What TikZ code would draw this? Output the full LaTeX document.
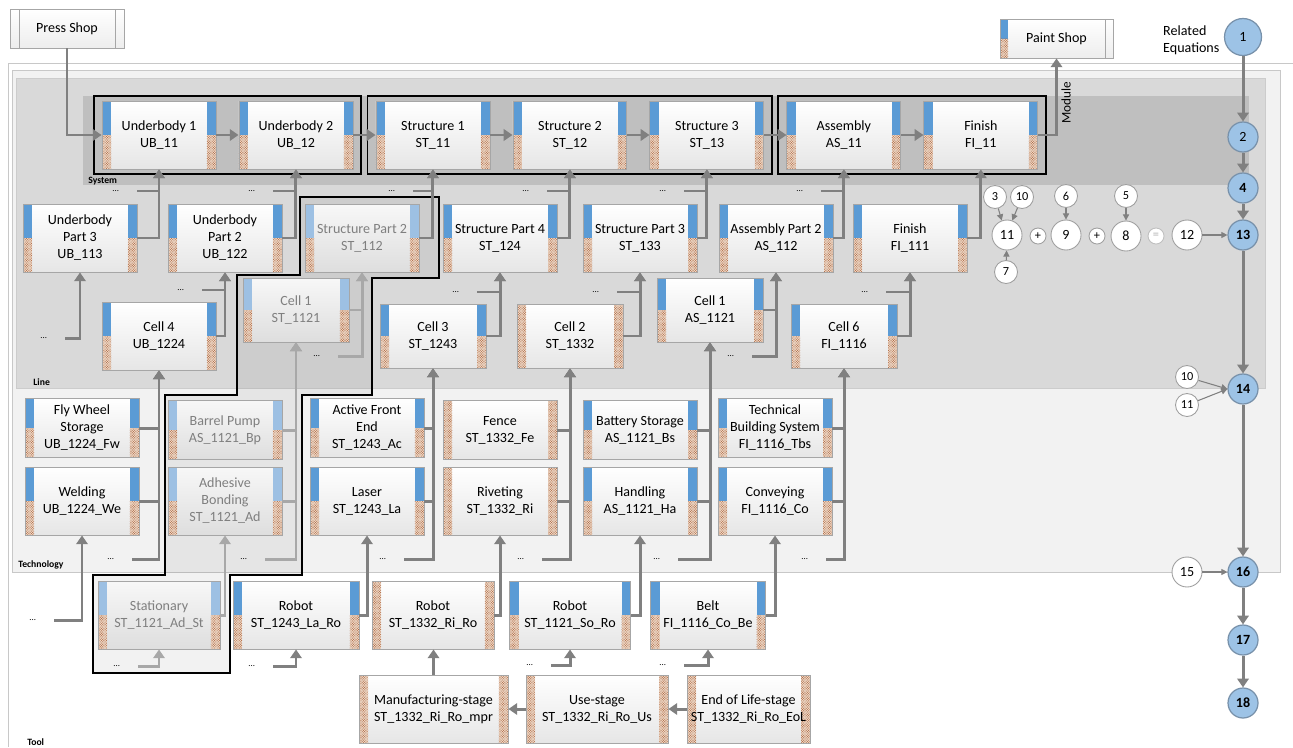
\documentclass[tikz,border=0pt]{standalone}
\usepackage{fontspec}
\setmainfont{Carlito}
\usetikzlibrary{arrows.meta,calc,positioning,fit,patterns}

\definecolor{sysgray}{HTML}{BFBFBF}
\definecolor{linegray}{HTML}{D9D9D9}
\definecolor{techgray}{HTML}{F2F2F2}
\definecolor{edgegray}{HTML}{C8C8C8}
\definecolor{boxline}{HTML}{A6A6A6}
\definecolor{boxbot}{HTML}{E6E6E6}
\definecolor{barblue}{HTML}{5B9BD5}
\definecolor{fadeblue}{HTML}{9DC0E3}
\definecolor{patbase}{HTML}{EDD9C8}
\definecolor{patbrown}{HTML}{B06A45}
\definecolor{arrgray}{HTML}{808080}
\definecolor{fadearr}{HTML}{A8A8A8}
\definecolor{fadetext}{HTML}{7F7F7F}
\definecolor{eqfill}{HTML}{9DC3E6}
\definecolor{eqline}{HTML}{7891AA}

\pgfdeclarepatternformonly{speckle}{\pgfqpoint{-0.1pt}{-0.1pt}}{\pgfqpoint{1.5pt}{1.5pt}}{\pgfqpoint{1.4pt}{1.4pt}}{%
  \pgfpathcircle{\pgfqpoint{0.35pt}{0.35pt}}{0.32pt}%
  \pgfpathcircle{\pgfqpoint{1.05pt}{1.05pt}}{0.32pt}%
  \pgfusepath{fill}}

\newcommand{\boxfont}{\fontsize{8}{9.7}\selectfont}

\tikzset{
  patbar/.style={preaction={fill=patbase},pattern=speckle,pattern color=patbrown},
  bluebar/.style={fill=barblue},
  fadebar/.style={fill=fadeblue},
  twobars/.style 2 args={path picture={
      \coordinate (bnw) at (path picture bounding box.north west);
      \coordinate (bse) at (path picture bounding box.south east);
      \fill[#1] (bnw) rectangle ($(bnw)!0.5!(bnw|-bse)+(0.18cm,0)$);
      \fill[#2] ($(bnw)!0.5!(bnw|-bse)$) rectangle ($(bnw|-bse)+(0.18cm,0)$);
      \fill[#1] ($(bnw-|bse)-(0.18cm,0)$) rectangle ($(bse)!0.5!(bnw-|bse)$);
      \fill[#2] ($(bse)!0.5!(bnw-|bse)-(0.18cm,0)$) rectangle (bse);}},
  proc/.style={draw=boxline,line width=0.5pt,top color=white,bottom color=boxbot,
    minimum width=2.28cm,minimum height=1.36cm,inner sep=1pt,align=center,font=\boxfont},
  blueproc/.style={proc,twobars={bluebar}{patbar}},
  patproc/.style={proc,twobars={patbar}{patbar}},
  fadeproc/.style={proc,twobars={fadebar}{patbar},text=fadetext,top color=black!3,bottom color=black!13},
  cellsize/.style={minimum width=2.12cm,minimum height=1.28cm},
  techtop/.style={minimum height=1.18cm},
  conn/.style={draw=arrgray,line width=1.7pt,-{Triangle[length=5pt,width=6.5pt]}},
  fadeconn/.style={conn,draw=fadearr},
  eqarrow/.style={draw=arrgray,line width=0.6pt,-{Triangle[length=3.5pt,width=3.5pt]}},
  dots/.style={anchor=east,inner xsep=10pt,inner ysep=0pt,font=\fontsize{5}{5}\selectfont},
  module/.style={draw=black,line width=1.1pt,inner xsep=0.16cm,inner ysep=0.09cm},
  layerlbl/.style={anchor=west,inner sep=0pt,font=\fontsize{5.5}{6}\selectfont\bfseries},
  eqmain/.style={circle,draw=eqline,line width=0.7pt,fill=eqfill,minimum size=0.6cm,
    inner sep=0pt,font=\fontsize{8}{9}\selectfont\bfseries},
  eqref/.style={circle,draw=gray!75,line width=0.5pt,fill=white,minimum size=0.6cm,
    inner sep=0pt,font=\fontsize{8}{9}\selectfont},
  eqsmall/.style={eqref,minimum size=0.46cm,font=\fontsize{7}{8}\selectfont},
  eqop/.style={eqref,minimum size=0.32cm,font=\fontsize{7}{7}\selectfont},
}

\begin{document}
\begin{tikzpicture}[x=0.02cm,y=-0.02cm,node distance=2.74cm]
  \useasboundingbox (0,0) rectangle (1293,747);
  % layers
  \draw[edgegray] (8,747) -- (8,63) -- (1293,63);
  \draw[edgegray,fill=techgray] (12,70) rectangle (1280,572);
  \draw[black!20,fill=linegray] (16,78) rectangle (1265,388);
  \fill[sysgray] (83,96) rectangle (1249,185);
  \node[layerlbl] (lsys) at (88,181) {System};
  \node[layerlbl] (lline) at (33,382) {Line};
  \node[layerlbl] (ltech) at (18,565) {Technology};
  \node[layerlbl] (ltool) at (27,742) {Tool};
  % outline of the faded chain
  \draw[black,line width=0.6pt,fill=black,fill opacity=0.05]
    (300,197) -- (439,197) -- (439,278) -- (372,278) -- (372,395) -- (302,395)
    -- (302,575) -- (230,575) -- (230,673) -- (93,673) -- (93,575) -- (165,575)
    -- (165,395) -- (237,395) -- (237,275) -- (300,275) -- cycle;

  % shops
  \node[proc,minimum height=0.78cm,bottom color=black!7,path picture={
      \draw[boxline] ([xshift=0.18cm]path picture bounding box.north west)
        -- ([xshift=0.18cm]path picture bounding box.south west);
      \draw[boxline] ([xshift=-0.18cm]path picture bounding box.north east)
        -- ([xshift=-0.18cm]path picture bounding box.south east);}]
    (PRS) at (67,28.5) {Press Shop};
  \node[proc,minimum width=2.26cm,minimum height=0.78cm,bottom color=black!7,path picture={
      \coordinate (bnw) at (path picture bounding box.north west);
      \coordinate (bse) at (path picture bounding box.south east);
      \fill[bluebar] (bnw) rectangle ($(bnw)!0.5!(bnw|-bse)+(0.16cm,0)$);
      \fill[patbar] ($(bnw)!0.5!(bnw|-bse)$) rectangle ($(bnw|-bse)+(0.16cm,0)$);
      \draw[boxline] ($(bnw-|bse)-(0.16cm,0)$) -- ($(bse)-(0.16cm,0)$);}]
    (PAS) at (1056.5,38.5) {Paint Shop};

  % system row
  \node[blueproc] (UB11) at (159,135) {Underbody 1\\UB\_11};
  \node[blueproc] (UB12) [right of=UB11] {Underbody 2\\UB\_12};
  \node[blueproc] (ST11) [right of=UB12] {Structure 1\\ST\_11};
  \node[blueproc] (ST12) [right of=ST11] {Structure 2\\ST\_12};
  \node[blueproc] (ST13) [right of=ST12] {Structure 3\\ST\_13};
  \node[blueproc] (AS11) [right of=ST13] {Assembly\\AS\_11};
  \node[blueproc] (FI11) [right of=AS11] {Finish\\FI\_11};
  \node[module,fit=(UB11)(UB12)] (modUB) {};
  \node[module,fit=(ST11)(ST13)] (modST) {};
  \node[module,fit=(AS11)(FI11)] (modAF) {};
  \node[rotate=90,font=\fontsize{7.5}{8}\selectfont] (lmod) at (1066,103) {Module};

  % line: parts
  \node[blueproc] (UBP3) at (80,238) {Underbody\\Part 3\\UB\_113};
  \node[blueproc] (UBP2) at (225,238) {Underbody\\Part 2\\UB\_122};
  \node[fadeproc] (STP2) at (362,238) {Structure Part 2\\ST\_112};
  \node[blueproc] (STP4) at (500,238) {Structure Part 4\\ST\_124};
  \node[blueproc] (STP3) at (640,238) {Structure Part 3\\ST\_133};
  \node[blueproc] (ASP2) at (776,238) {Assembly Part 2\\AS\_112};
  \node[blueproc] (FIP1) at (910,238) {Finish\\FI\_111};

  % line: cells
  \node[blueproc] (C4UB) at (159,336) {Cell 4\\UB\_1224};
  \node[fadeproc,cellsize] (C1ST) at (296,310) {Cell 1\\ST\_1121};
  \node[blueproc,cellsize] (C3ST) at (433,336) {Cell 3\\ST\_1243};
  \node[patproc,cellsize] (C2ST) at (570,336) {Cell 2\\ST\_1332};
  \node[blueproc,cellsize] (C1AS) at (710,310) {Cell 1\\AS\_1121};
  \node[blueproc,cellsize] (C6FI) at (844,336) {Cell 6\\FI\_1116};

  % technology
  \node[blueproc,techtop] (FWS) at (82,428) {Fly Wheel\\Storage\\UB\_1224\_Fw};
  \node[fadeproc,techtop] (BPU) at (225,430) {Barrel Pump\\AS\_1121\_Bp};
  \node[blueproc,techtop] (AFE) at (367,428) {Active Front\\End\\ST\_1243\_Ac};
  \node[patproc,techtop] (FEN) at (500,430) {Fence\\ST\_1332\_Fe};
  \node[blueproc,techtop] (BAT) at (640,430) {Battery Storage\\AS\_1121\_Bs};
  \node[blueproc,techtop] (TBS) at (775,428) {Technical\\Building System\\FI\_1116\_Tbs};
  \node[blueproc] (WEL) at (82,501) {Welding\\UB\_1224\_We};
  \node[fadeproc] (ADH) at (225,501) {Adhesive\\Bonding\\ST\_1121\_Ad};
  \node[blueproc] (LAS) at (367,501) {Laser\\ST\_1243\_La};
  \node[patproc] (RIV) at (500,501) {Riveting\\ST\_1332\_Ri};
  \node[blueproc] (HAN) at (640,501) {Handling\\AS\_1121\_Ha};
  \node[blueproc] (CON) at (775,501) {Conveying\\FI\_1116\_Co};

  % tools
  \node[fadeproc,minimum width=2.44cm] (STA) at (159,615) {Stationary\\ST\_1121\_Ad\_St};
  \node[blueproc,minimum width=2.52cm] (RLA) at (296,615) {Robot\\ST\_1243\_La\_Ro};
  \node[patproc,minimum width=2.44cm] (RRI) at (433,615) {Robot\\ST\_1332\_Ri\_Ro};
  \node[blueproc,minimum width=2.42cm] (RSO) at (570,615) {Robot\\ST\_1121\_So\_Ro};
  \node[blueproc,minimum width=2.30cm] (BEL) at (708,615) {Belt\\FI\_1116\_Co\_Be};
  \node[patproc,minimum width=2.98cm] (MFG) at (433.5,709) {Manufacturing-stage\\ST\_1332\_Ri\_Ro\_mpr};
  \node[patproc,minimum width=2.84cm] (USE) at (597,709) {Use-stage\\ST\_1332\_Ri\_Ro\_Us};
  \node[patproc,minimum width=2.46cm] (EOL) at (748.5,709) {End of Life-stage\\ST\_1332\_Ri\_Ro\_EoL};

  % open ends
  \node[dots] (dUB11) at (137,191) {...};
  \node[dots] (dUB12) at (273,191) {...};
  \node[dots] (dST11) at (413,191) {...};
  \node[dots] (dST12) at (547,191) {...};
  \node[dots] (dST13) at (684,191) {...};
  \node[dots] (dAS11) at (821,191) {...};
  \node[dots] (dUBP3) at (65,338) {...};
  \node[dots] (dUBP2) at (202,290) {...};
  \node[dots] (dSTP2) at (338,356) {...};
  \node[dots] (dSTP4) at (477,292) {...};
  \node[dots] (dSTP3) at (617,292) {...};
  \node[dots] (dASP2) at (752,356) {...};
  \node[dots] (dFIP1) at (886,292) {...};
  \node[dots] (dC4UB) at (132,559) {...};
  \node[dots] (dC1ST) at (265,559) {...};
  \node[dots] (dC3ST) at (404,559) {...};
  \node[dots] (dC2ST) at (542,559) {...};
  \node[dots] (dC1AS) at (678,559) {...};
  \node[dots] (dC6FI) at (826,559) {...};
  \node[dots] (dWEL) at (54,620) {...};
  \node[dots] (dSTA) at (138,666) {...};
  \node[dots] (dRLA) at (273,666) {...};
  \node[dots] (dRSO) at (551,665) {...};
  \node[dots] (dBEL) at (684,665) {...};

  % flows
  \draw[conn] (PRS.south) |- (UB11.west);
  \foreach \a/\b in {UB11/UB12,UB12/ST11,ST11/ST12,ST12/ST13,ST13/AS11,AS11/FI11}
    \draw[conn] (\a.east) -- (\b.west);
  \draw[conn] (FI11.east) -| (PAS.south);
  \foreach \c/\p in {UBP3/UB11,dUB11/UB11,UBP2/UB12,dUB12/UB12,STP2/ST11,dST11/ST11,
      STP4/ST12,dST12/ST12,STP3/ST13,dST13/ST13,ASP2/AS11,dAS11/AS11,FIP1/FI11,
      dUBP3/UBP3,C4UB/UBP2,dUBP2/UBP2,C3ST/STP4,dSTP4/STP4,C2ST/STP3,dSTP3/STP3,
      C1AS/ASP2,dASP2/ASP2,C6FI/FIP1,dFIP1/FIP1,
      FWS/C4UB,WEL/C4UB,dC4UB/C4UB,AFE/C3ST,LAS/C3ST,dC3ST/C3ST,FEN/C2ST,RIV/C2ST,
      dC2ST/C2ST,BAT/C1AS,HAN/C1AS,dC1AS/C1AS,TBS/C6FI,CON/C6FI,dC6FI/C6FI,
      dWEL/WEL,RLA/LAS,RRI/RIV,RSO/HAN,BEL/CON,dRLA/RLA,dRSO/RSO,dBEL/BEL}
    \draw[conn] (\c.east) -| (\p.south);
  \foreach \c/\p in {C1ST/STP2,dSTP2/STP2,BPU/C1ST,ADH/C1ST,dC1ST/C1ST,STA/ADH,dSTA/STA}
    \draw[fadeconn] (\c.east) -| (\p.south);
  \draw[conn] (EOL.west) -- (USE.east);
  \draw[conn] (USE.west) -- (MFG.east);
  \draw[conn] (MFG.north) -- (MFG.north |- RRI.south);

  % related equations
  \node[anchor=west,align=left,font=\boxfont] (releq) at (1157,40) {Related\\Equations};
  \node[eqmain,minimum size=0.74cm,font=\fontsize{8}{9}\selectfont] (E1) at (1243,37) {1};
  \node[eqmain,font=\fontsize{8}{9}\selectfont] (E2) at (1243,137) {2};
  \node[eqmain] (E4) at (1243,188) {4};
  \node[eqmain] (E13) at (1243,235) {13};
  \node[eqmain] (E14) at (1243,389) {14};
  \node[eqmain] (E16) at (1243,572) {16};
  \node[eqmain] (E17) at (1243,640) {17};
  \node[eqmain] (E18) at (1243,703) {18};
  \foreach \a/\b in {E1/E2,E2/E4,E4/E13,E13/E14,E14/E16,E16/E17,E17/E18}
    \draw[conn] (\a) -- (\b);
  \node[eqsmall] (W3) at (995,197) {3};
  \node[eqsmall] (W10) at (1022,197) {10};
  \node[eqref] (W11) at (1007,235) {11};
  \node[eqsmall] (W7) at (1006,272) {7};
  \node[eqop] (P1) at (1038,236) {+};
  \node[eqref] (W9) at (1066,235) {9};
  \node[eqsmall] (W6) at (1066,196) {6};
  \node[eqop] (P2) at (1097,236) {+};
  \node[eqref] (W8) at (1126,236) {8};
  \node[eqsmall] (W5) at (1126,196) {5};
  \node[eqop,draw=gray!50,text=gray!60] (EQ) at (1156,236) {=};
  \node[eqref] (W12) at (1187,235) {12};
  \node[eqsmall] (W10b) at (1187,377) {10};
  \node[eqsmall] (W11b) at (1187,405) {11};
  \node[eqref] (W15) at (1187,572) {15};
  \draw[eqarrow] (W3) -- (W11.110);
  \draw[eqarrow] (W10) -- (W11.70);
  \draw[eqarrow] (W7) -- (W11);
  \draw[eqarrow] (W6) -- (W9);
  \draw[eqarrow] (W5) -- (W8);
  \draw[eqarrow] (W12) -- (E13);
  \draw[eqarrow] (W10b) -- (E14.west);
  \draw[eqarrow] (W11b) -- (E14.west);
  \draw[eqarrow] (W15) -- (E16);
\end{tikzpicture}
\end{document}
